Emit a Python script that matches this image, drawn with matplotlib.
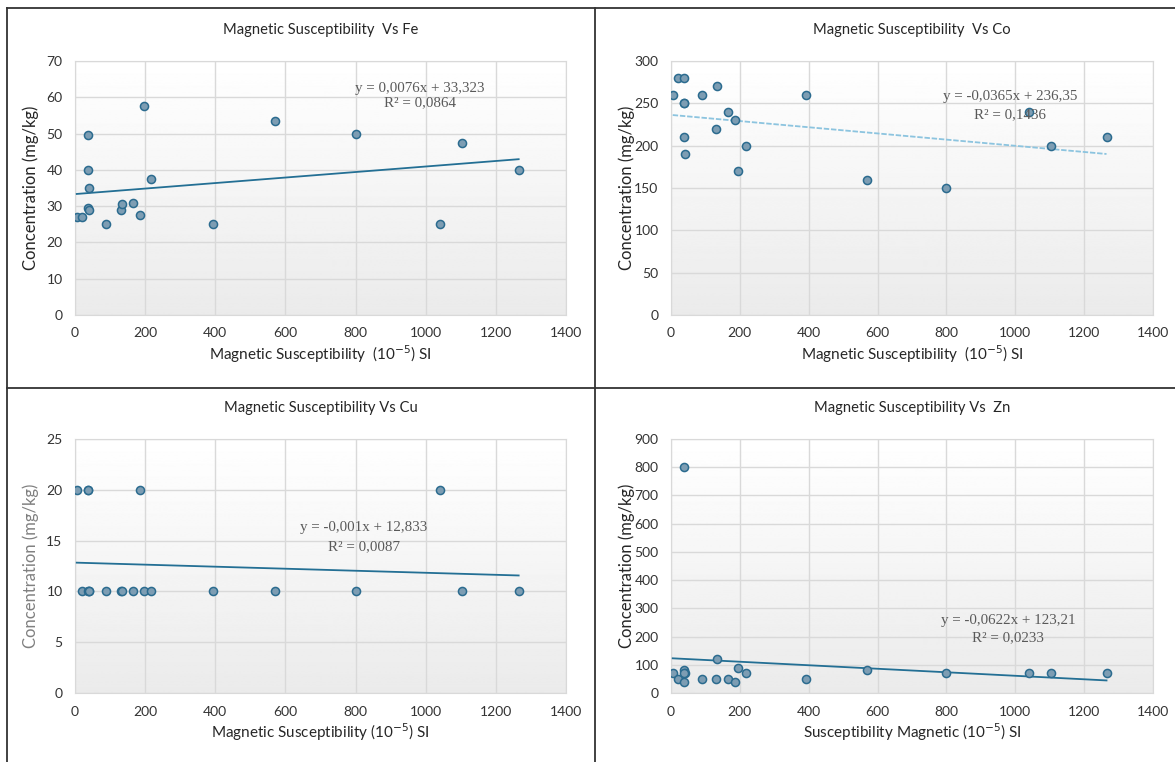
import numpy as np
import matplotlib.pyplot as plt
from matplotlib.lines import Line2D

# susceptibilidad magnetica (10^-5 SI), misma para los 4 elementos
suscept = [5, 21, 37, 37, 41, 37, 39, 89, 131, 134, 165, 186, 196, 218, 393, 570, 800, 1040, 1103, 1265]

fe = [27, 27, 49.5, 40, 34.9, 29.5, 28.9, 25, 29, 30.5, 31, 27.5, 57.5, 37.5, 25, 53.5, 50, 25, 47.3, 40]
co = [260, 280, 280, 250, 190, 210, 250, 260, 220, 270, 240, 230, 170, 200, 260, 160, 150, 240, 200, 210]
cu = [20, 10, 20, 20, 10, 10, 10, 10, 10, 10, 10, 20, 10, 10, 10, 10, 10, 20, 10, 10]
zn = [70, 50, 800, 80, 70, 40, 70, 50, 50, 120, 50, 40, 90, 70, 50, 80, 70, 70, 70, 70]

# ecuaciones de tendencia (pendiente, intercepto, texto, R2)
tend_fe = (0.0076, 33.323, '0,0076x + 33,323', '0,0864')
tend_co = (-0.0365, 236.35, '-0,0365x + 236,35', '0,1436')
tend_cu = (-0.001, 12.833, '-0,001x + 12,833', '0,0087')
tend_zn = (-0.0622, 123.21, '-0,0622x + 123,21', '0,0233')

titulos = ['Magnetic Susceptibility  Vs Fe', 'Magnetic Susceptibility  Vs Co',
           'Magnetic Susceptibility Vs Cu', 'Magnetic Susceptibility Vs  Zn']
xlabels = ['Magnetic Susceptibility  (10$^{-5}$) SI', 'Magnetic Susceptibility  (10$^{-5}$) SI',
           'Magnetic Susceptibility (10$^{-5}$) SI', 'Susceptibility Magnetic (10$^{-5}$) SI']

W, H = 1175, 762
FUENTE = 'Lato'
GRIS_TXT = '#333333'


def panel(fig, caja, y, tend, titulo, xlabel, ymax, ypaso, pos_ec, color_lin='#236f94',
          estilo_lin='-', color_ylabel='#262626'):
    x0, y0, x1, y1 = caja  # en pixeles
    ax = fig.add_axes([x0 / W, 1 - y1 / H, (x1 - x0) / W, (y1 - y0) / H])
    # fondo degradado tipo Excel
    grad = np.linspace(1.0, 0.92, 256).reshape(-1, 1)
    ax.imshow(grad, cmap='gray', vmin=0, vmax=1, extent=[0, 1, 0, 1], aspect='auto',
              transform=ax.transAxes, zorder=0)
    ax.set_xlim(0, 1400)
    ax.set_ylim(0, ymax)
    ax.set_xticks(np.arange(0, 1401, 200))
    ax.set_yticks(np.arange(0, ymax + 1, ypaso))
    ax.grid(True, color='#d9d9d9', lw=1, zorder=1)
    ax.set_axisbelow(True)
    for s in ax.spines.values():
        s.set_color('#d9d9d9')
    ax.tick_params(length=0, labelsize=10, labelcolor=GRIS_TXT, pad=9)
    for t in ax.get_xticklabels() + ax.get_yticklabels():
        t.set_family(FUENTE)

    m, b, ec, r2 = tend
    xs = np.array([min(suscept), max(suscept)])
    ax.plot(xs, m * xs + b, color=color_lin, lw=1.3, ls=estilo_lin, zorder=3)
    ax.scatter(suscept, y, s=34, facecolor='#7d9db3', edgecolor='#2b6b8f', lw=1.1, zorder=4)

    # texto de la ecuacion
    ex, ey1, ey2 = pos_ec
    ax.text(ex, ey1, f'y = {ec}', ha='center', va='center', fontsize=10.8,
            family='Liberation Serif', color='#595959', zorder=5)
    ax.text(ex, ey2, f'R² = {r2}', ha='center', va='center', fontsize=10.8,
            family='Liberation Serif', color='#595959', zorder=5)

    cx = (x0 + x1) / 2
    fig.text(cx / W, 1 - (y0 - 31) / H, titulo, ha='center', va='center', fontsize=10.6,
             family=FUENTE, color='#262626')
    fig.text(cx / W, 1 - (y1 + 39) / H, xlabel, ha='center', va='center', fontsize=11,
             family=FUENTE, color='#262626')
    fig.text((x0 - 44) / W, 1 - ((y0 + y1) / 2) / H, 'Concentration (mg/kg)', ha='center',
             va='center', rotation=90, fontsize=12, family=FUENTE, color=color_ylabel)
    return ax


fig = plt.figure(figsize=(W / 100, H / 100), dpi=100)

panel(fig, (75, 61, 566, 315), fe, tend_fe, titulos[0], xlabels[0], 70, 10, (984, 62.5, 58.6))
panel(fig, (671, 61, 1153, 315), co, tend_co, titulos[1], xlabels[1], 300, 50, (985, 258, 236),
      color_lin='#8cc4df', estilo_lin=(0, (3, 1)))
panel(fig, (75, 439, 566, 693), cu, tend_cu, titulos[2], xlabels[2], 25, 5, (824, 16.25, 14.4),
      color_ylabel='#808080')
panel(fig, (671, 439, 1153, 693), zn, tend_zn, titulos[3], xlabels[3], 900, 100, (980, 258, 195))

# bordes de los recuadros
k = '#333333'
fig.add_artist(Line2D([7 / W, 7 / W], [0, 1 - 8 / H], color=k, lw=1.3))
fig.add_artist(Line2D([7 / W, 1], [1 - 8 / H, 1 - 8 / H], color=k, lw=1.3))
fig.add_artist(Line2D([595 / W, 595 / W], [0, 1 - 8 / H], color=k, lw=1.3))
fig.add_artist(Line2D([7 / W, 1], [1 - 388 / H, 1 - 388 / H], color=k, lw=1.3))

fig.savefig('out.png', dpi=100)
